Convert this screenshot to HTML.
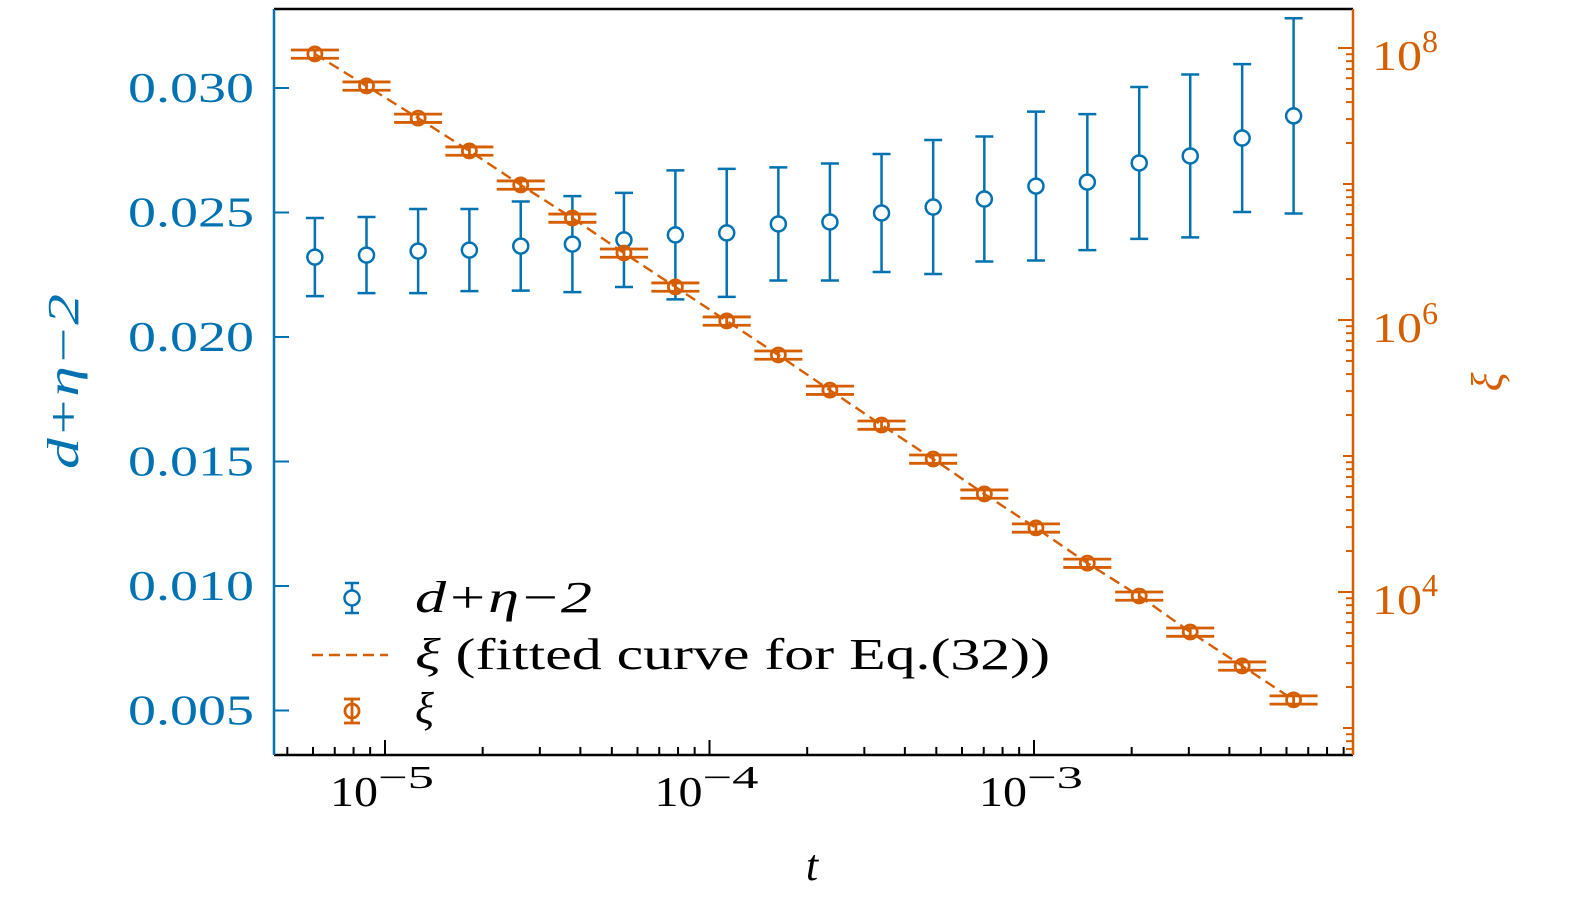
<!DOCTYPE html>
<html><head><meta charset="utf-8"><style>
html,body{margin:0;padding:0;background:#fff}
svg{display:block;font-family:"Liberation Serif",serif}
</style></head><body>
<svg id="c" width="1575" height="906"></svg>
<script>
const tVals=[6.08e-6,8.77e-6,1.265e-5,1.82e-5,2.62e-5,3.78e-5,5.45e-5,7.85e-5,1.13e-4,1.63e-4,2.35e-4,3.39e-4,4.89e-4,7.03e-4,1.014e-3,1.46e-3,2.11e-3,3.03e-3,4.38e-3,6.31e-3];
const etaVals=[0.02321,0.02329,0.02345,0.02349,0.02365,0.02373,0.02390,0.02410,0.02418,0.02454,0.02462,0.02498,0.02522,0.02554,0.02606,0.02622,0.02699,0.02727,0.02799,0.02888];
const etaErr=[0.00157,0.00153,0.00169,0.00165,0.00179,0.00193,0.00189,0.00259,0.00257,0.00227,0.00235,0.00237,0.00269,0.00251,0.00299,0.00273,0.00305,0.00327,0.00297,0.00392];
const xiVals=[9.04e7,5.26e7,3.05e7,1.75e7,9.84e6,5.62e6,3.11e6,1.75e6,9.84e5,5.53e5,3.05e5,1.69e5,9.5e4,5.26e4,2.96e4,1.63e4,9.35e3,5.08e3,2.86e3,1.61e3];
const xiErrFrac=[0.07,0.07,0.07,0.07,0.07,0.07,0.07,0.07,0.07,0.07,0.07,0.07,0.07,0.07,0.07,0.07,0.07,0.07,0.07,0.07];
const xiFit=[9.04e7,5.26e7,3.05e7,1.75e7,9.84e6,5.62e6,3.11e6,1.75e6,9.84e5,5.53e5,3.05e5,1.69e5,9.5e4,5.26e4,2.96e4,1.63e4,9.35e3,5.08e3,2.86e3,1.61e3];
const leftTicks=[0.005,0.010,0.015,0.020,0.025,0.030];
const leftTickLabels=["0.005","0.010","0.015","0.020","0.025","0.030"];
const xMajor=[-5,-4,-3];
const rightMajor=[4,6,8];

const BLUE="#0072B2",OR="#D55E00";
const L=274,R=1353,T=9,B=755;
const sx=t=>385+(Math.log10(t)+5)*324.5;
const syL=v=>88+(0.030-v)/0.005*124.5;
const syR=v=>48+(8-Math.log10(v))*136;
const svg=document.getElementById('c');
const NS="http://www.w3.org/2000/svg";
function mk(tag,a,parent){const e=document.createElementNS(NS,tag);for(const k in a)e.setAttribute(k,a[k]);(parent||svg).appendChild(e);return e;}
function txt(s,a,parent){const e=mk('text',a,parent);e.textContent=s;return e;}

let e;
e=mk('line',{x1:L,y1:T,x2:R,y2:T,stroke:'#000','stroke-width':2.5});


e=mk('line',{x1:L,y1:B,x2:R,y2:B,stroke:'#000','stroke-width':2.5});


e=mk('line',{x1:L,y1:T,x2:L,y2:B,stroke:BLUE,'stroke-width':2.5});


e=mk('line',{x1:R,y1:T,x2:R,y2:B,stroke:OR,'stroke-width':2.5});



for(let d=-6;d<=-2;d++){for(let m=1;m<10;m++){const v=m*Math.pow(10,d);const x=sx(v);if(x<L||x>R)continue;
 const len=m===1?15:8;
 e=mk('line',{x1:x,y1:B,x2:x,y2:B-len,stroke:'#000','stroke-width':2});
 
 }}
xMajor.forEach(p=>{const x=sx(Math.pow(10,p));
 const g=mk('text',{x:x-55,y:806,'font-size':42,fill:'#000'});
 
 
 const a=document.createElementNS(NS,'tspan');a.setAttribute('textLength','48');a.setAttribute('lengthAdjust','spacingAndGlyphs');a.textContent='10';g.appendChild(a);
 const b=document.createElementNS(NS,'tspan');b.setAttribute('dy','-18');b.setAttribute('font-size','32');b.setAttribute('textLength','56');b.setAttribute('lengthAdjust','spacingAndGlyphs');b.textContent='−'+(-p);g.appendChild(b);});
leftTicks.forEach((v,i)=>{const y=syL(v);
 e=mk('line',{x1:L,y1:y,x2:L+15,y2:y,stroke:BLUE,'stroke-width':2});
 
 
 e=txt(leftTickLabels[i],{x:128,y:y+14,'font-size':42,textLength:126,lengthAdjust:'spacingAndGlyphs',fill:BLUE});
 
 });
for(let d=2;d<=8;d++){for(let m=1;m<10;m++){const v=m*Math.pow(10,d);const y=syR(v);if(y<T||y>B)continue;
 const len=(m===1&&d%2===0)?15:(m===1?10:7);
 e=mk('line',{x1:R,y1:y,x2:R-len,y2:y,stroke:OR,'stroke-width':2});
 
 }}
rightMajor.forEach(p=>{const y=syR(Math.pow(10,p));
 const g=mk('text',{x:1372,y:y+22,'font-size':42,fill:OR});
 
 
 const a=document.createElementNS(NS,'tspan');a.setAttribute('textLength','50');a.setAttribute('lengthAdjust','spacingAndGlyphs');a.textContent='10';g.appendChild(a);
 const b=document.createElementNS(NS,'tspan');b.setAttribute('dy','-18');b.setAttribute('font-size','32');b.textContent=String(p);g.appendChild(b);});

e=mk('polyline',{points:tVals.map((t,i)=>sx(t)+','+syR(xiFit[i])).join(' '),fill:'none',stroke:OR,'stroke-width':2.4,'stroke-dasharray':'11,6'});



tVals.forEach((t,i)=>{const x=sx(t),y=syL(etaVals[i]),y1=syL(etaVals[i]+etaErr[i]),y2=syL(etaVals[i]-etaErr[i]);
 const g=mk('g',{stroke:BLUE,'stroke-width':2.5,fill:'none'});
 
 
 mk('line',{x1:x,y1:y1,x2:x,y2:y2},g);
 mk('line',{x1:x-9,y1:y1,x2:x+9,y2:y1},g);
 mk('line',{x1:x-9,y1:y2,x2:x+9,y2:y2},g);
 mk('circle',{cx:x,cy:y,r:7.5,fill:'#fff'},g);});
tVals.forEach((t,i)=>{const x=sx(t),y=syR(xiVals[i]),y1=syR(xiVals[i]*(1+xiErrFrac[i])),y2=syR(xiVals[i]*(1-xiErrFrac[i]));
 const g=mk('g',{stroke:OR,'stroke-width':2.8,fill:'none'});
 
 
 mk('line',{x1:x,y1:y1,x2:x,y2:y2},g);
 mk('line',{x1:x-24,y1:y1,x2:x+24,y2:y1},g);
 mk('line',{x1:x-24,y1:y2,x2:x+24,y2:y2},g);
 mk('circle',{cx:x,cy:y,r:7,fill:'none'},g);});

const lg=mk('g',{});


let g=mk('g',{stroke:BLUE,'stroke-width':2.5,fill:'none'},lg);


mk('line',{x1:352,y1:583,x2:352,y2:613},g);mk('line',{x1:345,y1:583,x2:359,y2:583},g);mk('line',{x1:345,y1:613,x2:359,y2:613},g);mk('circle',{cx:352,cy:598,r:7.5,fill:'#fff'},g);
e=txt('d+η−2',{x:415,y:612,'font-size':44,'font-style':'italic',textLength:177,lengthAdjust:'spacingAndGlyphs',fill:'#000'},lg);


e=mk('line',{x1:312,y1:655,x2:388,y2:655,stroke:OR,'stroke-width':2.4,'stroke-dasharray':'11,6'},lg);


e=txt('',{x:415,y:669,'font-size':44,fill:'#000',textLength:635,lengthAdjust:'spacingAndGlyphs'},lg);
e.innerHTML='<tspan font-style="italic">ξ</tspan> (fitted curve for Eq.(32))';


g=mk('g',{stroke:OR,'stroke-width':2.8,fill:'none'},lg);


mk('line',{x1:352,y1:699,x2:352,y2:723},g);mk('line',{x1:344,y1:699,x2:360,y2:699},g);mk('line',{x1:344,y1:723,x2:360,y2:723},g);mk('circle',{cx:352,cy:711,r:7},g);
e=txt('ξ',{x:415,y:723,'font-size':44,'font-style':'italic',fill:'#000'},lg);



e=txt('t',{x:812,y:880,'font-size':44,'font-style':'italic','text-anchor':'middle',fill:'#000'});


e=txt('d+η−2',{x:-87,y:0,'font-size':44,'font-style':'italic',textLength:175,lengthAdjust:'spacingAndGlyphs',fill:BLUE,transform:'translate(78,382) rotate(-90)'});


e=txt('ξ',{x:0,y:0,'font-size':44,'font-style':'italic','text-anchor':'middle',fill:OR,transform:'translate(1502,382) rotate(-90)'});


</script>
</body></html>
